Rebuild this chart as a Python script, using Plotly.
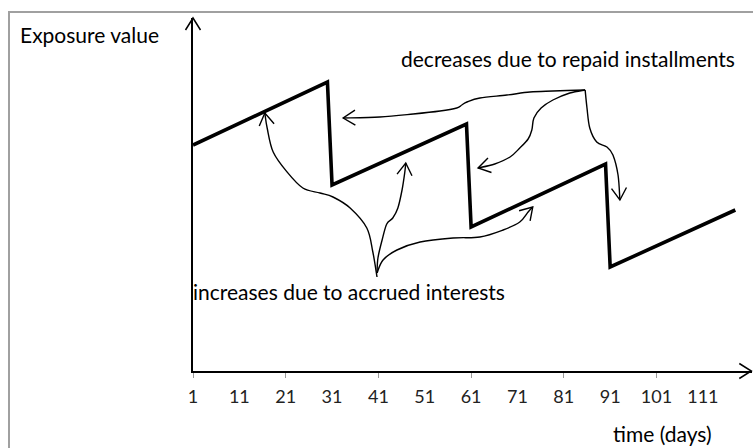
import math
import plotly.graph_objects as go

# ---------------- data ----------------
days = [1, 30, 31, 60, 61, 90, 91, 118]
exposure = [226, 289, 186, 247, 144, 207, 104, 161]

tick_days = [1, 11, 21, 31, 41, 51, 61, 71, 81, 91, 101, 111]
tick_labels = ["1", "11", "21", "31", "41", "51", "61", "71", "81", "91", "101", "111"]
minor_tick_days = [1, 21, 41, 61, 81, 101]

y_title = "Exposure value"
x_title = "time (days)"
note_down = "decreases due to repaid installments"
note_up = "increases due to accrued interests"

# annotation curves in chart units (day, exposure), from origin to arrow tip
up_left = [(40.7, 94), (39.8, 119), (38.5, 143), (34.9, 163), (31.2, 174), (28.4, 178),
           (24.7, 183), (21.3, 199), (18.3, 219), (17.0, 243), (16.5, 258)]
up_mid = [(40.7, 98), (40.9, 113), (41.8, 131), (42.8, 147), (44.1, 153), (45.2, 163),
          (46.1, 181), (46.7, 199), (46.9, 208)]
up_right = [(40.7, 98), (42.0, 111), (45.0, 121), (50.0, 129), (57.1, 133), (62.9, 134),
            (67.9, 141), (71.5, 149), (73.3, 159), (74.3, 164)]
down_long = [(85.6, 281), (78.65, 280), (73.7, 279), (68.7, 276), (62.9, 273), (60.1, 269),
             (59.0, 266), (57.9, 263), (54.3, 260), (48.5, 257), (41.3, 254), (33.4, 253)]
down_mid = [(85.6, 281), (82.3, 278), (78.65, 271), (76.1, 263), (74.55, 253), (74.1, 241),
            (73.3, 232), (71.5, 223), (69.4, 214), (66.1, 207), (62.5, 203)]
down_right = [(85.6, 281), (86.0, 263), (86.6, 243), (88.1, 229), (90.3, 224), (91.6, 216),
              (92.7, 196), (93.1, 171)]

# ---------------- layout geometry ----------------
W, H = 753, 448
ML, MR, MT, MB = 193, 1, 18, 77
XR = [1, 121.6]
YR = [0, 353]
PW, PH = W - ML - MR, H - MT - MB
SX = PW / (XR[1] - XR[0])
SY = PH / (YR[1] - YR[0])


def xp(x):
    return (x - XR[0]) / (XR[1] - XR[0])


def yp(y):
    return (y - YR[0]) / (YR[1] - YR[0])


def smooth_path(pts):
    p = [pts[0]] + list(pts) + [pts[-1]]
    d = f"M{xp(p[1][0]):.5f},{yp(p[1][1]):.5f}"
    for i in range(1, len(p) - 2):
        p0, p1, p2, p3 = p[i - 1], p[i], p[i + 1], p[i + 2]
        c1 = (p1[0] + (p2[0] - p0[0]) / 6, p1[1] + (p2[1] - p0[1]) / 6)
        c2 = (p2[0] - (p3[0] - p1[0]) / 6, p2[1] - (p3[1] - p1[1]) / 6)
        d += (f" C{xp(c1[0]):.5f},{yp(c1[1]):.5f} {xp(c2[0]):.5f},{yp(c2[1]):.5f}"
              f" {xp(p2[0]):.5f},{yp(p2[1]):.5f}")
    return d


def chevron(tip, prev, L=12.0, Wd=7.5):
    dx = (tip[0] - prev[0]) * SX
    dy = (tip[1] - prev[1]) * SY
    n = math.hypot(dx, dy)
    ux, uy = dx / n, dy / n
    px_, py_ = -uy, ux
    a1 = (tip[0] + (-L * ux + Wd * px_) / SX, tip[1] + (-L * uy + Wd * py_) / SY)
    a2 = (tip[0] + (-L * ux - Wd * px_) / SX, tip[1] + (-L * uy - Wd * py_) / SY)
    return (f"M{xp(a1[0]):.5f},{yp(a1[1]):.5f} L{xp(tip[0]):.5f},{yp(tip[1]):.5f}"
            f" L{xp(a2[0]):.5f},{yp(a2[1]):.5f}")


FONT = "Lato"
FS = 21
FS_TICK = 18

fig = go.Figure()
fig.add_trace(go.Scatter(
    x=days, y=exposure, mode="lines",
    line=dict(color="black", width=3.6),
    cliponaxis=False, showlegend=False, hoverinfo="skip",
))

shapes = []
curve_style = dict(color="black", width=1.4)
for c in [up_left, up_mid, up_right, down_long, down_mid, down_right]:
    shapes.append(dict(type="path", xref="paper", yref="paper", path=smooth_path(c),
                       line=curve_style, layer="above"))
    shapes.append(dict(type="path", xref="paper", yref="paper", path=chevron(c[-1], c[-2]),
                       line=curve_style, layer="above"))

# axis arrowheads
shapes.append(dict(type="path", xref="paper", yref="paper",
                   path=chevron((XR[0], YR[1]), (XR[0], YR[1] - 50)),
                   line=dict(color="black", width=1.5), layer="above"))
shapes.append(dict(type="path", xref="paper", yref="paper",
                   path=chevron((XR[1] - 0.15, YR[0]), (XR[1] - 20, YR[0])),
                   line=dict(color="black", width=1.5), layer="above"))

# outer frame (top and left edges visible)
fx0 = (9 - ML) / PW
fy_top = (H - MB - 12) / PH
fy_bot = -(MB + 5) / PH
shapes.append(dict(type="path", xref="paper", yref="paper",
                   path=f"M{fx0:.5f},{fy_bot:.5f} L{fx0:.5f},{fy_top:.5f} L1.2,{fy_top:.5f}",
                   line=dict(color="#a0a0a0", width=2), layer="below"))

annotations = [
    dict(text=y_title, xref="paper", yref="paper", x=(18 - ML) / PW, y=(H - MB - 35) / PH,
         xanchor="left", yanchor="middle", showarrow=False,
         font=dict(family=FONT, size=FS, color="black")),
    dict(text=note_down, xref="paper", yref="paper", x=(399 - ML) / PW, y=(H - MB - 58) / PH,
         xanchor="left", yanchor="middle", showarrow=False,
         font=dict(family=FONT, size=FS, color="black")),
    dict(text=note_up, xref="paper", yref="paper", x=(191 - ML) / PW, y=(H - MB - 291) / PH,
         xanchor="left", yanchor="middle", showarrow=False,
         font=dict(family=FONT, size=FS, color="black")),
    dict(text=x_title, xref="paper", yref="paper", x=(611 - ML) / PW, y=(H - MB - 433) / PH,
         xanchor="left", yanchor="middle", showarrow=False,
         font=dict(family=FONT, size=FS, color="black")),
]

fig.update_layout(
    width=W, height=H, autosize=False,
    margin=dict(l=ML, r=MR, t=MT, b=MB, pad=0),
    paper_bgcolor="white", plot_bgcolor="white",
    showlegend=False,
    shapes=shapes, annotations=annotations,
    xaxis=dict(range=XR, showgrid=False, zeroline=False,
               showline=True, linecolor="black", linewidth=1.5,
               tickmode="array", tickvals=tick_days, ticktext=tick_labels,
               ticks="", ticklabelstandoff=9,
               tickfont=dict(family=FONT, size=FS_TICK, color="#222222"),
               minor=dict(ticks="outside", tickmode="array", tickvals=minor_tick_days,
                          ticklen=5, tickcolor="#999999", tickwidth=1),
               fixedrange=True),
    yaxis=dict(range=YR, showgrid=False, zeroline=False,
               showline=True, linecolor="black", linewidth=1.5,
               showticklabels=False, ticks="", fixedrange=True),
)

fig.write_html("out.html", config={"displayModeBar": False},
               post_script="document.body.style.margin='0px';document.body.style.overflow='hidden';")
